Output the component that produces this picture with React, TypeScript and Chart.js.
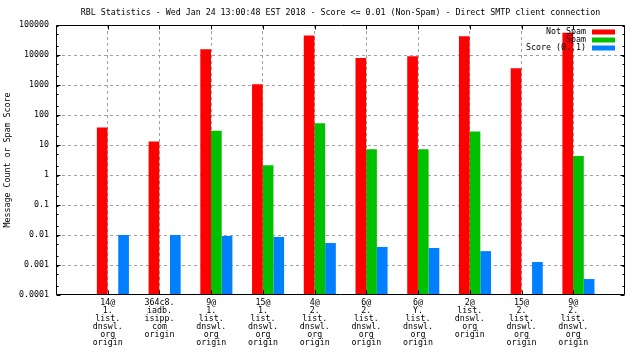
import React, { useEffect, useRef } from "react";
import { Chart, registerables } from "chart.js";

Chart.register(...registerables);

const TITLE =
  "RBL Statistics - Wed Jan 24 13:00:48 EST 2018 - Score <= 0.01 (Non-Spam) - Direct SMTP client connection";
const Y_TITLE = "Message Count or Spam Score";

const categories: string[][] = [
  ["14@", "1.", "list.", "dnswl.", "org", "origin"],
  ["364c8.", "iadb.", "isipp.", "com", "origin"],
  ["9@", "1.", "list.", "dnswl.", "org", "origin"],
  ["15@", "1.", "list.", "dnswl.", "org", "origin"],
  ["4@", "2.", "list.", "dnswl.", "org", "origin"],
  ["6@", "2.", "list.", "dnswl.", "org", "origin"],
  ["6@", "Y.", "list.", "dnswl.", "org", "origin"],
  ["2@", "list.", "dnswl.", "org", "origin"],
  ["15@", "2.", "list.", "dnswl.", "org", "origin"],
  ["9@", "2.", "list.", "dnswl.", "org", "origin"],
];

const notSpam: (number | null)[] = [38, 13, 15500, 1050, 45000, 7900, 9000, 42000, 3600, 55000];
const spam: (number | null)[] = [null, null, 30, 2.1, 53, 7.2, 7.2, 28, null, 4.3];
const score: (number | null)[] = [0.01, 0.01, 0.0093, 0.0086, 0.0054, 0.004, 0.0037, 0.0029, 0.00126, 0.00034];

const seriesNames = ["Not Spam", "Spam", "Score (0..1)"];
const seriesColors = ["#ff0000", "#00c000", "#0080ff"];

const yTickValues = [0.0001, 0.001, 0.01, 0.1, 1, 10, 100, 1000, 10000, 100000];
const yTickLabels = ["0.0001", "0.001", "0.01", "0.1", "1", "10", "100", "1000", "10000", "100000"];
const yMinorFactors = [2, 5, 9];

const FONT = "DejaVu Sans Mono";
const FS = 8.3;
const GRID = "#a0a0a0";

const framePlugin = {
  id: "gnuplotFrame",
  afterDatasetsDraw(chart: any) {
    const ctx = chart.ctx as CanvasRenderingContext2D;
    const ca = chart.chartArea;
    const ys = chart.scales.y;
    const xs = chart.scales.x;
    ctx.save();
    ctx.strokeStyle = "#000";
    ctx.lineWidth = 1;
    ctx.setLineDash([]);
    const L = Math.round(ca.left) + 0.5;
    const R = Math.round(ca.right) - 0.5;
    const T = Math.round(ca.top) + 0.5;
    const B = Math.round(ca.bottom) - 0.5;
    ctx.beginPath();
    ctx.rect(L, T, R - L, B - T);
    for (const v of yTickValues) {
      const p = Math.round(ys.getPixelForValue(v)) + 0.5;
      ctx.moveTo(L, p); ctx.lineTo(L + 4, p);
      ctx.moveTo(R, p); ctx.lineTo(R - 4, p);
      if (v < 100000) {
        for (const f of yMinorFactors) {
          const q = Math.round(ys.getPixelForValue(v * f)) + 0.5;
          ctx.moveTo(L, q); ctx.lineTo(L + 2, q);
          ctx.moveTo(R, q); ctx.lineTo(R - 2, q);
        }
      }
    }
    for (let i = 0; i < categories.length; i++) {
      const p = Math.round(xs.getPixelForValue(i)) + 0.5;
      ctx.moveTo(p, B); ctx.lineTo(p, B - 4);
      ctx.moveTo(p, T); ctx.lineTo(p, T + 4);
    }
    ctx.stroke();

    ctx.fillStyle = "#000";
    ctx.font = `${FS}px "${FONT}"`;
    ctx.textAlign = "center";
    ctx.textBaseline = "middle";
    ctx.fillText(TITLE, (ca.left + ca.right) / 2, 13);

    const textRight = ca.right - 39;
    const swL = ca.right - 33;
    const swW = 23;
    chart.data.datasets.forEach((ds: any, i: number) => {
      const cy = ca.top + 7 + i * 8;
      ctx.fillStyle = "#000";
      ctx.textAlign = "right";
      ctx.fillText(ds.label, textRight, cy);
      ctx.fillStyle = ds.backgroundColor;
      ctx.fillRect(swL, cy - 2.5, swW, 5);
    });
    ctx.restore();
  },
};

export default function App() {
  const ref = useRef<HTMLCanvasElement>(null);
  useEffect(() => {
    if (!ref.current) return;
    const series = [notSpam, spam, score];
    const chart = new Chart(ref.current, {
      type: "bar",
      data: {
        datasets: series.map((vals, si) => ({
          label: seriesNames[si],
          data: vals.map((v, i) => ({ x: i, y: v })),
          backgroundColor: seriesColors[si],
          borderWidth: 0,
          xAxisID: "xb",
          yAxisID: "y",
          categoryPercentage: 0.62,
          barPercentage: 1,
        })),
      },
      options: {
        animation: false,
        responsive: false,
        devicePixelRatio: 1,
        layout: { padding: { left: 0, right: 15, top: 25, bottom: 0 } },
        plugins: {
          legend: { display: false },
          title: { display: false },
          tooltip: { enabled: false },
        },
        scales: {
          xb: {
            type: "linear",
            display: false,
            offset: false,
            grid: { offset: false },
            min: -1.1,
            max: 9.9,
          },
          x: {
            type: "linear",
            position: "bottom",
            offset: false,
            min: -1,
            max: 10,
            border: { display: false, dash: [3, 3] },
            grid: {
              offset: false,
              drawTicks: false,
              color: (c: any) =>
                c.tick && c.tick.value >= 0 && c.tick.value <= categories.length - 1 ? GRID : "rgba(0,0,0,0)",
              lineWidth: 1,
            },
            ticks: {
              stepSize: 1,
              autoSkip: false,
              maxRotation: 0,
              padding: 4,
              color: "#000",
              font: { family: FONT, size: FS, lineHeight: "8px" },
              callback: (v: any) => (categories[v] ? categories[v] : ""),
            },
            afterFit: (s: any) => {
              s.height = 65;
            },
          },
          y: {
            type: "logarithmic",
            min: 0.0001,
            max: 100000,
            border: { display: false, dash: [3, 3] },
            grid: {
              drawTicks: false,
              color: (c: any) =>
                c.tick && c.tick.value > 0.0001 && c.tick.value < 100000 ? GRID : "rgba(0,0,0,0)",
              lineWidth: 1,
            },
            afterBuildTicks: (s: any) => {
              s.ticks = yTickValues.map((v) => ({ value: v }));
            },
            ticks: {
              autoSkip: false,
              padding: 7,
              color: "#000",
              font: { family: FONT, size: FS },
              callback: (_v: any, idx: number) => yTickLabels[idx],
            },
            title: {
              display: true,
              text: Y_TITLE,
              color: "#000",
              font: { family: FONT, size: FS, lineHeight: 1.2 },
              padding: { top: 3, bottom: 3 },
            },
            afterFit: (s: any) => {
              s.width = 56;
            },
          },
        },
      },
      plugins: [framePlugin],
    } as any);
    return () => chart.destroy();
  }, []);
  return (
    <div style={{ position: "absolute", left: 0, top: 0, width: 640, height: 360, background: "#fff" }}>
      <canvas ref={ref} width={640} height={360} style={{ display: "block" }} />
    </div>
  );
}
